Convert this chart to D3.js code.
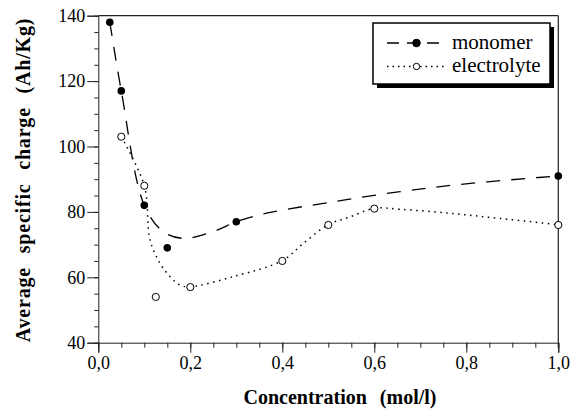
<!DOCTYPE html>
<html>
<head>
<meta charset="utf-8">
<script src="https://cdn.jsdelivr.net/npm/d3@7"></script>
<style>
  body { margin: 0; background: #fff; }
  svg text { font-family: "Liberation Serif", "Times New Roman", serif; }
</style>
</head>
<body>
<div id="chart"></div>
<script>
// measured points
const monomerX = [0.025, 0.05, 0.1, 0.15, 0.3, 1.0];
const monomerY = [138, 117, 82, 69, 77, 91];
const electrolyteX = [0.05, 0.1, 0.125, 0.2, 0.4, 0.5, 0.6, 1.0];
const electrolyteY = [103, 88, 54, 57, 65, 76, 81, 76];

// fitted curves
const monomerFitX = [0.025, 0.05, 0.1, 0.141, 0.185, 0.254, 0.3, 0.366, 0.511, 0.656, 0.786, 0.938, 1.0];
const monomerFitY = [138, 117, 82, 74, 71.9, 74.2, 77, 79.6, 83.1, 86.2, 88.4, 90.3, 91];
const electrolyteFitX = [0.05, 0.1, 0.1125, 0.134, 0.156, 0.178, 0.2, 0.293, 0.4, 0.446, 0.5, 0.548, 0.6, 0.656, 0.764, 0.873, 1.0];
const electrolyteFitY = [103, 88, 71.4, 64.3, 60.2, 57.6, 57.1, 60.2, 65.1, 70.4, 76.1, 78.5, 81.1, 80.8, 79.6, 78.0, 76.1];

const xTicks = [0, 0.2, 0.4, 0.6, 0.8, 1.0];
const yTicks = [40, 60, 80, 100, 120, 140];
const legendLabels = ["monomer", "electrolyte"];

const w = 570, h = 414;
const margin = {top: 15.7, right: 11.7, bottom: 71.3, left: 98.3};
const width = w - margin.left - margin.right,
    height = h - margin.top - margin.bottom;

const x = d3.scaleLinear().domain([0, 1]).range([0, width]);
const y = d3.scaleLinear().domain([40, 140]).range([height, 0]);

const svg = d3.select("#chart").append("svg")
    .attr("width", w)
    .attr("height", h);

const g = svg.append("g")
    .attr("transform", "translate(" + margin.left + "," + margin.top + ")");

const fmt = d => d3.format(".1f")(d).replace(".", ",");

// minor ticks
g.append("g")
    .attr("transform", "translate(0," + height + ")")
    .call(d3.axisBottom(x).tickValues(d3.range(0, 1.0001, 0.05)).tickSize(5).tickFormat(""))
    .call(a => a.select(".domain").remove());
g.append("g")
    .call(d3.axisLeft(y).tickValues(d3.range(40, 140.1, 5)).tickSize(4).tickFormat(""))
    .call(a => a.select(".domain").remove());

// major ticks + axes
const xAxis = g.append("g")
    .attr("transform", "translate(0," + height + ")")
    .call(d3.axisBottom(x).tickValues(xTicks).tickSize(10).tickPadding(4).tickFormat(fmt));
const yAxis = g.append("g")
    .call(d3.axisLeft(y).tickValues(yTicks).tickSize(11).tickPadding(2).tickFormat(d3.format("d")));

[xAxis, yAxis].forEach(a => {
    a.attr("font-family", null);
    a.selectAll("text").attr("font-size", 18).attr("fill", "#000");
    a.selectAll("path, line").attr("stroke", "#222").attr("stroke-width", 1);
});
g.selectAll(".tick line").attr("stroke", "#222");

// frame top and right
g.append("line").attr("x1", 0).attr("x2", width).attr("y1", 0).attr("y2", 0)
    .attr("stroke", "#222").attr("stroke-width", 1.2);
g.append("line").attr("x1", width).attr("x2", width).attr("y1", 0).attr("y2", height + 5)
    .attr("stroke", "#222").attr("stroke-width", 1.2);

const line = d3.line()
    .x(d => x(d[0]))
    .y(d => y(d[1]))
    .curve(d3.curveCatmullRom.alpha(0.5));

g.append("path")
    .datum(d3.zip(monomerFitX, monomerFitY))
    .attr("d", line)
    .attr("fill", "none")
    .attr("stroke", "#000")
    .attr("stroke-width", 1.3)
    .attr("stroke-dasharray", "14,11");

g.append("path")
    .datum(d3.zip(electrolyteFitX, electrolyteFitY))
    .attr("d", line)
    .attr("fill", "none")
    .attr("stroke", "#000")
    .attr("stroke-width", 1.5)
    .attr("stroke-dasharray", "1.5,4.5");

g.selectAll("circle.mono")
    .data(d3.zip(monomerX, monomerY))
    .enter().append("circle")
    .attr("class", "mono")
    .attr("cx", d => x(d[0]))
    .attr("cy", d => y(d[1]))
    .attr("r", 3.8)
    .attr("fill", "#000");

g.selectAll("circle.elec")
    .data(d3.zip(electrolyteX, electrolyteY))
    .enter().append("circle")
    .attr("class", "elec")
    .attr("cx", d => x(d[0]))
    .attr("cy", d => y(d[1]))
    .attr("r", 3.6)
    .attr("fill", "#fff")
    .attr("stroke", "#000")
    .attr("stroke-width", 1);

// axis titles
svg.append("text")
    .attr("x", 340)
    .attr("y", 404)
    .attr("text-anchor", "middle")
    .attr("font-weight", "bold")
    .attr("font-size", 20)
    .attr("word-spacing", 8)
    .text("Concentration (mol/l)");

svg.append("text")
    .attr("transform", "translate(30," + 180 + ") rotate(-90)")
    .attr("text-anchor", "middle")
    .attr("font-weight", "bold")
    .attr("font-size", 20)
    .attr("word-spacing", 8)
    .attr("letter-spacing", 0.8)
    .text("Average specific charge (Ah/Kg)");

// legend
const lg = svg.append("g").attr("transform", "translate(373,23)");
lg.append("rect").attr("x", 4).attr("y", 4).attr("width", 177).attr("height", 61).attr("fill", "#000");
lg.append("rect").attr("x", 0).attr("y", 0).attr("width", 177).attr("height", 61)
    .attr("fill", "#fff").attr("stroke", "#000").attr("stroke-width", 1.5);

const legendRows = lg.selectAll("g.row")
    .data(legendLabels)
    .enter().append("g")
    .attr("class", "row")
    .attr("transform", (d, i) => "translate(0," + (20 + i * 23.5) + ")");

legendRows.append("line")
    .attr("x1", 14).attr("y1", 0).attr("y2", 0)
    .attr("x2", (d, i) => i === 0 ? 70 : 74)
    .attr("stroke", "#000")
    .attr("stroke-width", (d, i) => i === 0 ? 1.3 : 1.5)
    .attr("stroke-dasharray", (d, i) => i === 0 ? "12,8" : "1.5,4");

legendRows.append("circle")
    .attr("cx", 43.5).attr("cy", 0)
    .attr("r", (d, i) => i === 0 ? 3.8 : 3.2)
    .attr("fill", (d, i) => i === 0 ? "#000" : "#fff")
    .attr("stroke", "#000").attr("stroke-width", 1);

legendRows.append("text")
    .attr("x", 79)
    .attr("y", 5.5)
    .attr("font-size", 21)
    .text(d => d);
</script>
</body>
</html>
